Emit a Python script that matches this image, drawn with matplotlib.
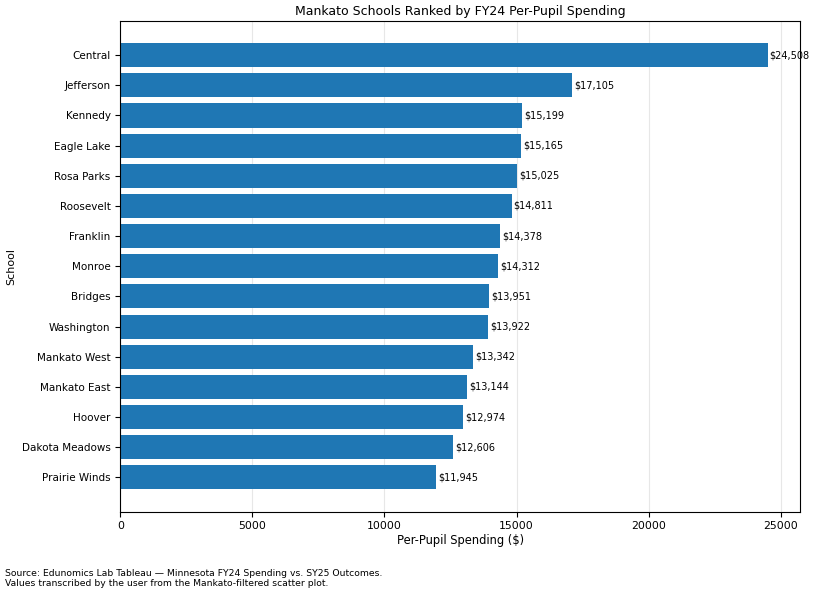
import matplotlib
matplotlib.use("Agg")
import matplotlib.pyplot as plt

schools = ["Central", "Jefferson", "Kennedy", "Eagle Lake", "Rosa Parks", "Roosevelt",
           "Franklin", "Monroe", "Bridges", "Washington", "Mankato West", "Mankato East",
           "Hoover", "Dakota Meadows", "Prairie Winds"]
spending = [24508, 17105, 15199, 15165, 15025, 14811, 14378, 14312, 13951, 13922,
            13342, 13144, 12974, 12606, 11945]

fig, ax = plt.subplots(figsize=(8.13, 5.93), dpi=100)
fig.subplots_adjust(left=0.148, right=0.984, top=0.965, bottom=0.137)

pos = list(range(len(schools)))
bars = ax.barh(pos, spending, color="#1f77b4", height=0.8, zorder=2)
ax.set_yticks(pos)
ax.set_yticklabels(schools, fontsize=7.5)
ax.invert_yaxis()
ax.set_xlim(0, max(spending) * 1.05)
ax.tick_params(axis="x", labelsize=7.8)
ax.grid(axis="x", alpha=0.3, zorder=0)

for b, v in zip(bars, spending):
    ax.text(b.get_width() + 80, b.get_y() + b.get_height() / 2, f"${v:,}",
            va="center", ha="left", fontsize=7)

ax.set_xlabel("Per-Pupil Spending ($)", fontsize=8.3, labelpad=1.5)
ax.set_ylabel("School", fontsize=8)
ax.yaxis.set_label_coords(-0.153, 0.5)
ax.set_title("Mankato Schools Ranked by FY24 Per-Pupil Spending", fontsize=9, pad=4)

fig.text(0.006, 0.008,
         "Source: Edunomics Lab Tableau \u2014 Minnesota FY24 Spending vs. SY25 Outcomes.\n"
         "Values transcribed by the user from the Mankato-filtered scatter plot.",
         fontsize=6.7, ha="left", va="bottom")

fig.savefig("out.png", dpi=100)
